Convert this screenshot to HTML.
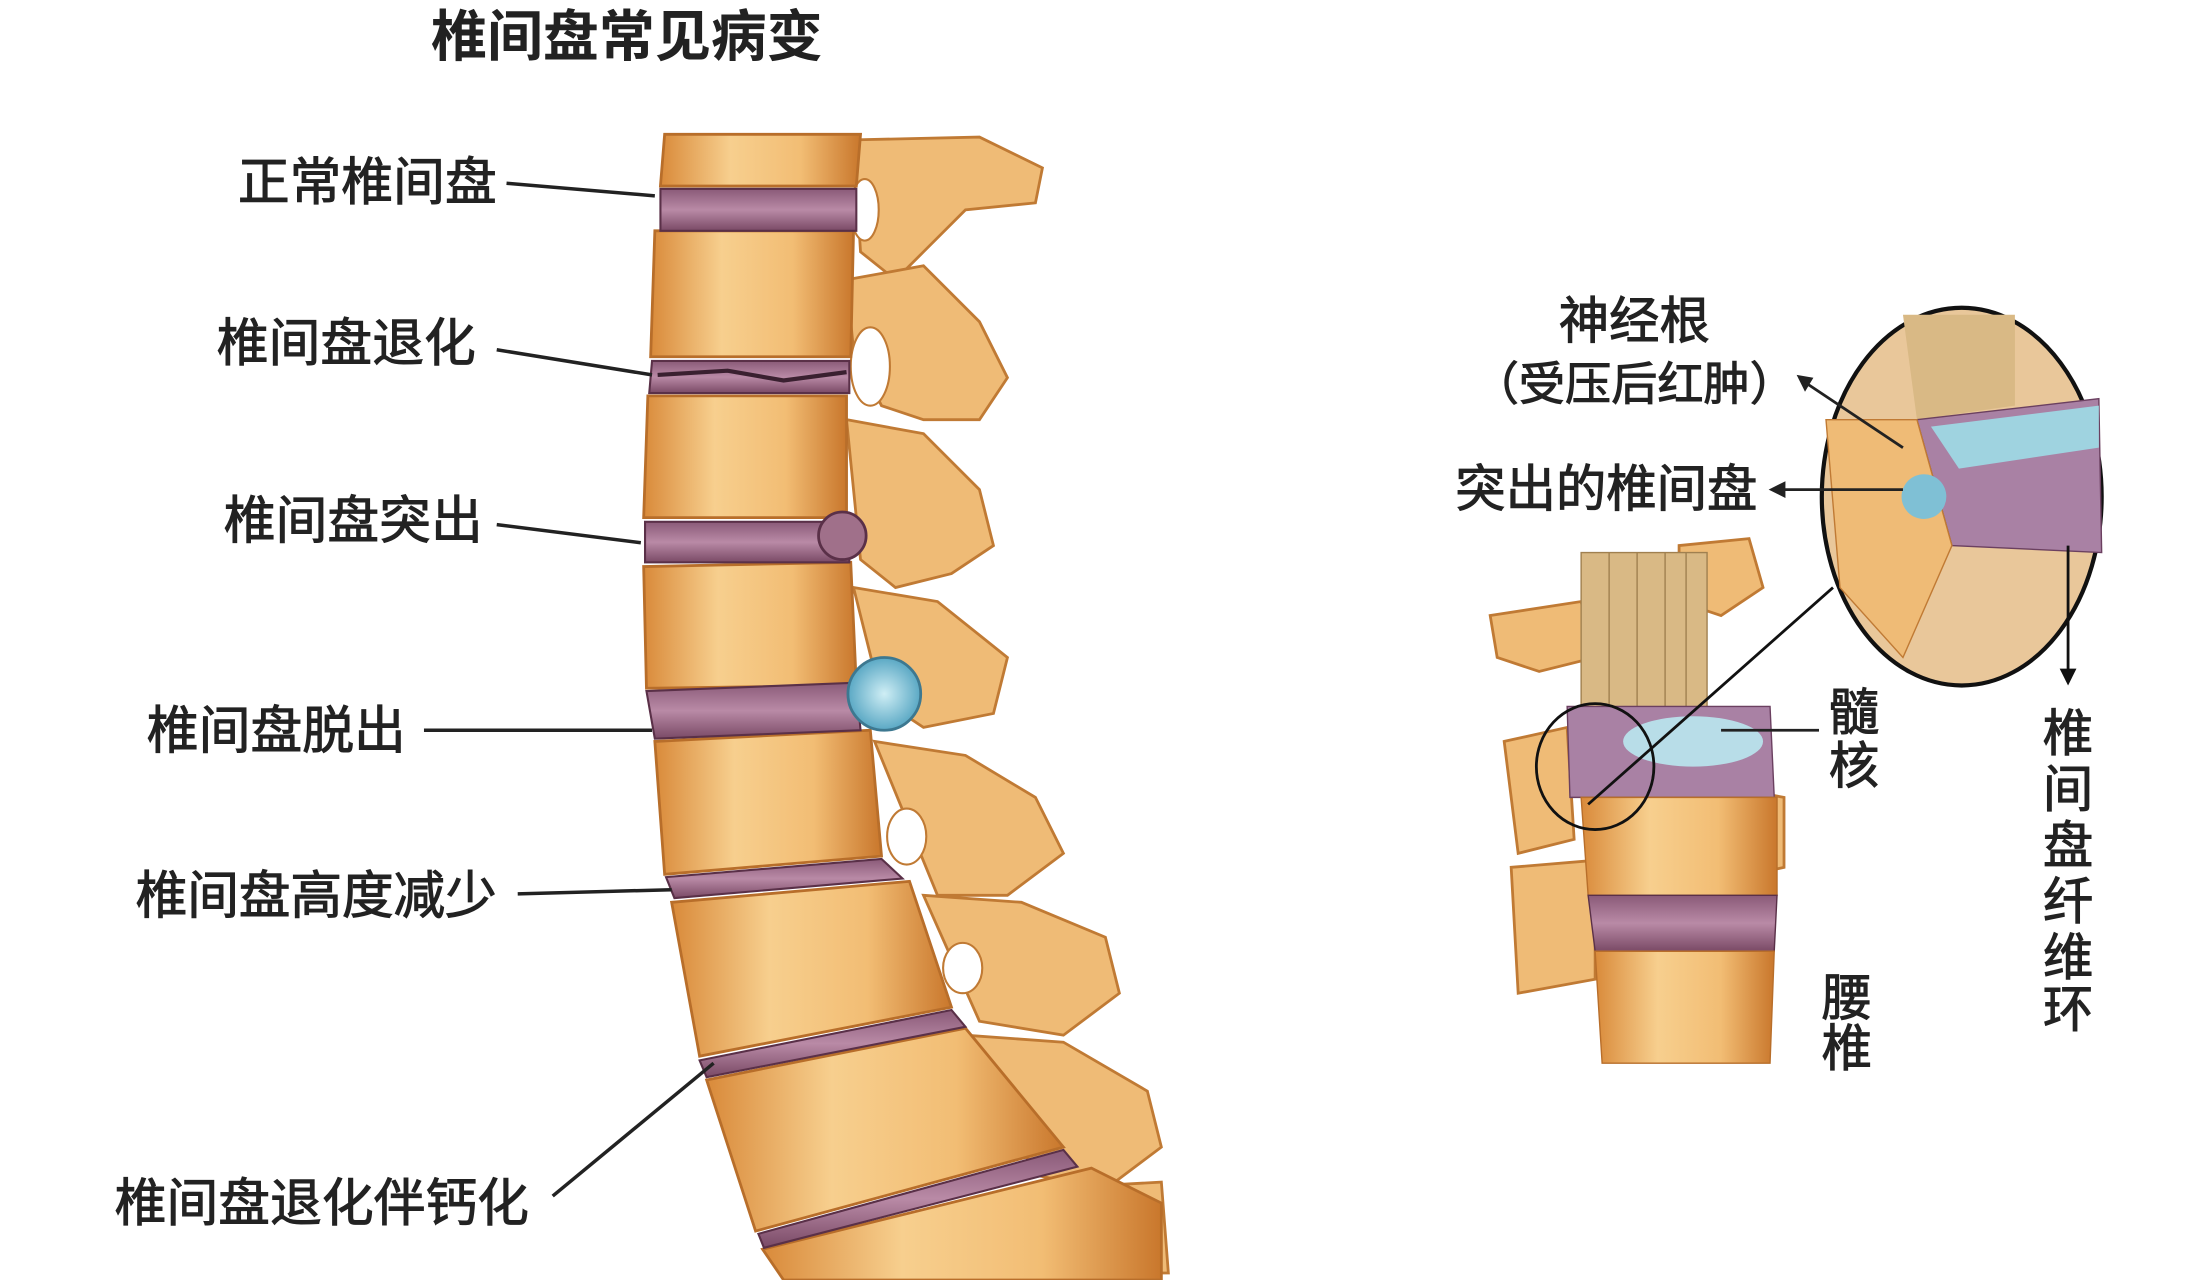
<!DOCTYPE html>
<html><head><meta charset="utf-8"><style>
html,body{margin:0;padding:0;background:#fff}
svg{display:block}
text{font-family:"Liberation Sans","Noto Sans CJK SC",sans-serif;fill:#222}
.l{stroke:#222;stroke-width:0.7}
</style></head><body>
<svg width="2194" height="1280" viewBox="0 0 1568 915" preserveAspectRatio="none" xmlns="http://www.w3.org/2000/svg">
<defs>
<linearGradient id="bone" x1="0" x2="1" y1="0" y2="0">
<stop offset="0" stop-color="#d98a3a"/><stop offset="0.35" stop-color="#f7cf8e"/><stop offset="0.7" stop-color="#f2bd74"/><stop offset="1" stop-color="#c9772c"/></linearGradient>
<linearGradient id="disc" x1="0" x2="0" y1="0" y2="1">
<stop offset="0" stop-color="#8a5a78"/><stop offset="0.5" stop-color="#b98aa6"/><stop offset="1" stop-color="#7a4a66"/></linearGradient>
<radialGradient id="blue"><stop offset="0" stop-color="#cfeef5"/><stop offset="1" stop-color="#5aa8c4"/></radialGradient>
</defs>
<rect width="1568" height="915" fill="#fff"/>
<text x="448" y="40" font-size="40" font-weight="bold" text-anchor="middle">椎间盘常见病变</text>

<g fill="#efbb76" stroke="#c07a34" stroke-width="2">
<path d="M610 100 L700 98 L745 120 L740 145 L690 150 L660 180 L640 200 L615 180Z"/>
<path d="M605 200 L660 190 L700 230 L720 270 L700 300 L660 300 L630 290 L610 250Z"/>
<path d="M605 300 L660 310 L700 350 L710 390 L680 410 L640 420 L615 400Z"/>
<path d="M610 420 L670 430 L720 470 L710 510 L660 520 L630 500Z"/>
<path d="M625 530 L690 540 L740 570 L760 610 L720 640 L670 640Z"/>
<path d="M660 640 L730 645 L790 670 L800 710 L760 740 L700 730Z"/>
<path d="M690 740 L760 745 L820 780 L830 820 L790 850 L740 840Z"/>
<path d="M740 850 L830 845 L835 910 L760 910Z"/>
</g>
<g fill="#fff" stroke="#c07a34" stroke-width="1.5">
<ellipse cx="622" cy="262" rx="14" ry="28"/>
<ellipse cx="618" cy="150" rx="10" ry="22"/>
<ellipse cx="648" cy="598" rx="14" ry="20"/>
<ellipse cx="688" cy="692" rx="14" ry="18"/>
</g>
<g fill="url(#bone)" stroke="#b86e2a" stroke-width="2">
<path d="M475 96 L615 96 L612 133 L472 133Z"/>
<path d="M468 165 L610 165 L608 255 L465 255Z"/>
<path d="M463 283 L605 283 L605 370 L460 370Z"/>
<path d="M460 405 L608 402 L612 490 L462 492Z"/>
<path d="M468 530 L622 522 L630 612 L475 625Z"/>
<path d="M480 645 L650 630 L680 720 L500 755Z"/>
<path d="M505 772 L690 735 L760 820 L540 880Z"/>
<path d="M545 893 L780 835 L830 860 L830 915 L560 915Z"/>
</g>
<g fill="url(#disc)" stroke="#5a3048" stroke-width="1.5">
<rect x="472" y="135" width="140" height="30"/>
<path d="M466 258 L607 258 L607 281 L464 281Z"/>
<rect x="461" y="373" width="146" height="29"/>
<path d="M462 494 L612 488 L615 522 L468 528Z"/>
<path d="M476 627 L630 614 L645 628 L482 642Z"/>
<path d="M500 758 L680 722 L690 734 L505 770Z"/>
<path d="M542 882 L760 822 L770 834 L546 892Z"/>
</g>
<path d="M470 268 L520 265 L560 272 L605 266" stroke="#3a2030" stroke-width="3" fill="none"/>
<circle cx="602" cy="383" r="17" fill="#a0708a" stroke="#5a3048" stroke-width="2"/>
<circle cx="632" cy="496" r="26" fill="url(#blue)" stroke="#3d7890" stroke-width="2"/>

<g font-size="37" class="l">
<text x="170" y="143" textLength="185">正常椎间盘</text>
<text x="155" y="258" textLength="185">椎间盘退化</text>
<text x="160" y="385" textLength="185">椎间盘突出</text>
<text x="105" y="535" textLength="185">椎间盘脱出</text>
<text x="97" y="653" textLength="258">椎间盘高度减少</text>
<text x="82" y="873" textLength="296">椎间盘退化伴钙化</text>
</g>
<g stroke="#222" stroke-width="2.5" fill="none">
<path d="M362 131 L468 140"/>
<path d="M355 250 L466 268"/>
<path d="M355 375 L458 388"/>
<path d="M303 522 L466 522"/>
<path d="M370 639 L480 636"/>
<path d="M395 855 L510 760"/>
</g>

<g fill="#efbb76" stroke="#c07a34" stroke-width="2">
<path d="M1065 440 L1130 430 L1140 470 L1100 480 L1070 470Z"/>
<path d="M1200 390 L1250 385 L1260 420 L1230 440 L1200 430Z"/>
<path d="M1075 530 L1120 520 L1125 600 L1085 610Z"/>
<path d="M1080 620 L1140 615 L1140 700 L1085 710Z"/>
<path d="M1220 560 L1275 570 L1275 620 L1230 630Z"/>
</g>
<rect x="1130" y="395" width="90" height="115" fill="#d9b985" stroke="#a08050"/>
<g stroke="#a08050" stroke-width="1">
<line x1="1150" y1="395" x2="1150" y2="510"/><line x1="1170" y1="395" x2="1170" y2="510"/><line x1="1190" y1="395" x2="1190" y2="510"/><line x1="1205" y1="395" x2="1205" y2="510"/>
</g>
<path d="M1120 505 L1265 505 L1268 570 L1122 570Z" fill="#a981a4" stroke="#6b4060"/>
<ellipse cx="1210" cy="530" rx="50" ry="18" fill="#b8dde8"/>
<path d="M1130 570 L1270 570 L1270 640 L1135 640Z" fill="url(#bone)" stroke="#b86e2a"/>
<path d="M1135 640 L1270 640 L1268 680 L1140 680Z" fill="url(#disc)" stroke="#5a3048"/>
<path d="M1140 680 L1268 680 L1265 760 L1145 760Z" fill="url(#bone)" stroke="#b86e2a"/>
<ellipse cx="1140" cy="548" rx="42" ry="45" fill="none" stroke="#111" stroke-width="2"/>

<ellipse cx="1402" cy="355" rx="100" ry="135" fill="#e9c79a" stroke="#111" stroke-width="3"/>
<path d="M1360 225 L1440 225 L1440 290 L1370 300Z" fill="#d9b985"/>
<path d="M1370 300 L1500 285 L1502 395 L1395 390Z" fill="#a981a4" stroke="#6b4060"/>
<path d="M1380 305 L1500 290 L1500 320 L1400 335Z" fill="#9fd3e0"/>
<path d="M1305 300 L1370 300 L1395 390 L1360 470 L1315 420Z" fill="#efbb76" stroke="#c07a34"/>
<circle cx="1375" cy="355" r="16" fill="#7fc0d5"/>
<line x1="1135" y1="575" x2="1310" y2="420" stroke="#111" stroke-width="2"/>
<line x1="1478" y1="390" x2="1478" y2="485" stroke="#111" stroke-width="2"/>
<path d="M1472 478 L1478 490 L1484 478Z" fill="#111"/>

<g font-size="36" class="l">
<text x="1168" y="242" text-anchor="middle">神经根</text>
<text x="1168" y="286" text-anchor="middle" font-size="33">（受压后红肿）</text>
<text x="1148" y="362" text-anchor="middle">突出的椎间盘</text>
<text x="1307" y="522">髓</text><text x="1307" y="560">核</text>
<text x="1302" y="726">腰</text><text x="1302" y="762">椎</text>
<text x="1460" y="537">椎</text><text x="1460" y="577">间</text><text x="1460" y="617">盘</text><text x="1460" y="657">纤</text><text x="1460" y="697">维</text><text x="1460" y="734">环</text>
</g>
<g stroke="#222" stroke-width="2" fill="none">
<path d="M1288 272 L1360 320"/>
<path d="M1268 350 L1360 350"/>
<path d="M1300 522 L1230 522"/>
</g>
<path d="M1284 268 L1296 270 L1290 280Z" fill="#222"/>
<path d="M1264 350 L1276 344 L1276 356Z" fill="#222"/>
</svg>
</body></html>
